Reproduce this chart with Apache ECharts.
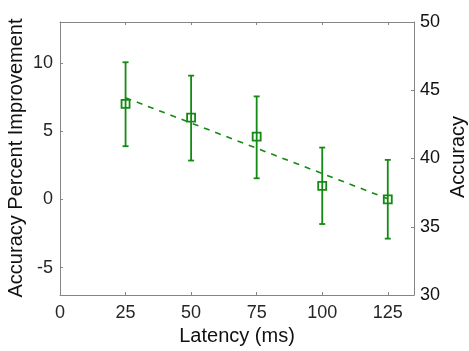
<!DOCTYPE html>
<html>
<head>
<meta charset="utf-8">
<script src="https://cdn.jsdelivr.net/npm/echarts@6/dist/echarts.min.js"></script>
<style>html,body{margin:0;padding:0;background:#fff}#c{width:469px;height:351px}</style>
</head>
<body>
<div id="c"></div>
<script>
var latency = [25, 50, 75, 100, 125];
var improvement = [7.0, 6.0, 4.6, 1.0, 0.0];
var errLow = [3.9, 2.85, 1.55, -1.8, -2.87];
var errHigh = [10.05, 9.07, 7.55, 3.8, 2.9];
var fitX = [25, 125];
var fitY = [7.45, 0.05];
var xTicks = [0, 25, 50, 75, 100, 125];
var leftTicks = [-5, 0, 5, 10];
var rightTicks = [30, 35, 40, 45, 50];

var green = '#138a13';
var axisCol = '#858585';
var txtCol = '#262626';
var font = 'Liberation Sans, Arial, Helvetica, sans-serif';

var chart = echarts.init(document.getElementById('c'), null, {renderer: 'canvas'});
var errData = latency.map(function (x, i) { return [x, errLow[i], errHigh[i]]; });

chart.setOption({
  animation: false,
  backgroundColor: '#fff',
  grid: {left: 60, right: 55, top: 22, bottom: 56},
  xAxis: [{
    type: 'value', min: 0, max: 135, position: 'bottom',
    axisLine: {show: true, onZero: false, lineStyle: {color: axisCol, width: 1}},
    axisTick: {show: true, inside: true, length: 3, customValues: xTicks, lineStyle: {color: axisCol}},
    axisLabel: {customValues: xTicks, color: txtCol, fontSize: 18, fontFamily: font, margin: 9},
    splitLine: {show: false}
  }, {
    type: 'value', min: 0, max: 135, position: 'top',
    axisLine: {show: true, onZero: false, lineStyle: {color: axisCol, width: 1}},
    axisTick: {show: true, inside: true, length: 3, customValues: xTicks, lineStyle: {color: axisCol}},
    axisLabel: {show: false},
    splitLine: {show: false}
  }],
  yAxis: [{
    type: 'value', min: -7, max: 13, position: 'left',
    axisLine: {show: true, onZero: false, lineStyle: {color: axisCol, width: 1}},
    axisTick: {show: true, inside: true, length: 3, customValues: leftTicks, lineStyle: {color: axisCol}},
    axisLabel: {customValues: leftTicks, color: txtCol, fontSize: 18, fontFamily: font, margin: 7},
    splitLine: {show: false}
  }, {
    type: 'value', min: 30, max: 50, interval: 5, position: 'right',
    axisLine: {show: true, onZero: false, lineStyle: {color: axisCol, width: 1}},
    axisTick: {show: true, inside: true, length: 3, customValues: rightTicks, lineStyle: {color: axisCol}},
    axisLabel: {customValues: rightTicks, color: '#111', fontSize: 18, fontFamily: font, margin: 6},
    splitLine: {show: false}
  }],
  series: [{
    type: 'line',
    data: fitX.map(function (x, i) { return [x, fitY[i]]; }),
    symbol: 'none',
    lineStyle: {color: green, width: 1.6, type: [6, 6]},
    z: 2
  }, {
    type: 'custom',
    data: errData,
    renderItem: function (params, api) {
      var x = api.value(0);
      var lo = api.coord([x, api.value(1)]);
      var hi = api.coord([x, api.value(2)]);
      var w = 3;
      var st = {stroke: green, lineWidth: 1.8, fill: null};
      return {type: 'group', children: [
        {type: 'line', shape: {x1: lo[0], y1: lo[1], x2: hi[0], y2: hi[1]}, style: st},
        {type: 'line', shape: {x1: hi[0] - w, y1: hi[1], x2: hi[0] + w, y2: hi[1]}, style: st},
        {type: 'line', shape: {x1: lo[0] - w, y1: lo[1], x2: lo[0] + w, y2: lo[1]}, style: st}
      ]};
    },
    z: 3
  }, {
    type: 'scatter',
    data: latency.map(function (x, i) { return [x, improvement[i]]; }),
    symbol: 'rect',
    symbolSize: 8,
    itemStyle: {color: 'rgba(0,0,0,0)', borderColor: green, borderWidth: 1.8, opacity: 1},
    z: 4
  }],
  graphic: [{
    type: 'text', x: 16, y: 158, rotation: Math.PI / 2,
    style: {text: 'Accuracy Percent Improvement', fontSize: 20, fontFamily: font, fill: '#111', textAlign: 'center', textVerticalAlign: 'middle'}
  }, {
    type: 'text', x: 458, y: 157, rotation: Math.PI / 2,
    style: {text: 'Accuracy', fontSize: 20, fontFamily: font, fill: '#111', textAlign: 'center', textVerticalAlign: 'middle'}
  }, {
    type: 'text', x: 237, y: 336,
    style: {text: 'Latency (ms)', fontSize: 20, fontFamily: font, fill: '#111', textAlign: 'center', textVerticalAlign: 'middle'}
  }]
});
</script>
</body>
</html>
